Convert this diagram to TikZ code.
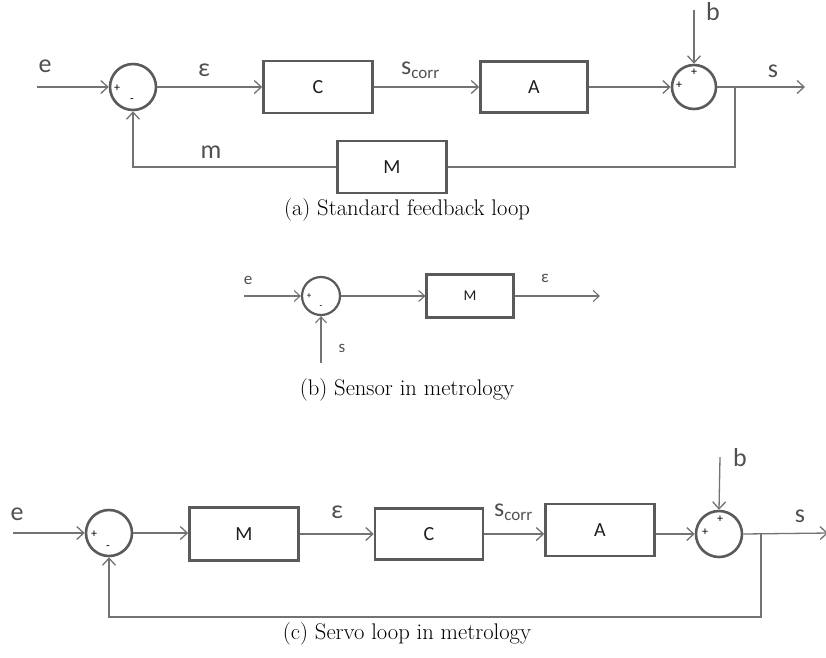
\documentclass[tikz,border=0pt]{standalone}
\usepackage{fontspec}
\newfontfamily\lab{Carlito}
\usetikzlibrary{arrows.meta}
\definecolor{ln}{RGB}{115,115,115}
\definecolor{bx}{RGB}{90,90,90}
\definecolor{tx}{RGB}{80,80,80}
\definecolor{btx}{RGB}{30,30,30}
\begin{document}
\begin{tikzpicture}[x=1pt,y=-1pt,
  blk/.style={draw=bx, line width=2.6pt, font=\lab\fontsize{20}{20}\selectfont, text=btx, inner sep=0},
  sblk/.style={blk, line width=2.2pt, font=\lab\fontsize{15}{15}\selectfont},
  sumc/.style={circle, draw=bx, line width=2.6pt, inner sep=0},
  conn/.style={draw=ln, line width=1.3pt, -{Straight Barb[length=7pt,width=13pt]}},
  sconn/.style={draw=ln, line width=1.1pt, -{Straight Barb[length=6pt,width=11pt]}},
  wire/.style={draw=ln, line width=1.3pt},
  lbl/.style={text=tx, font=\lab\fontsize{26}{26}\selectfont, inner sep=0},
  slbl/.style={text=tx, font=\lab\fontsize{17}{17}\selectfont, inner sep=0},
  sgn/.style={text=black, font=\lab\fontsize{12}{12}\selectfont, inner sep=0},
  captxt/.style={font=\fontsize{22.6}{22.6}\selectfont, inner sep=0}]
\useasboundingbox (0,0) rectangle (826,657);
% ---------- (a)
\node[sumc, minimum size=46pt] (a1) at (133,87) {};
\node[blk, minimum width=109pt, minimum height=52pt] (aC) at (318,87) {C};
\node[blk, minimum width=107pt, minimum height=51pt] (aA) at (534,87) {A};
\node[sumc, minimum size=44pt] (a2) at (694,87) {};
\node[blk, minimum width=109pt, minimum height=52pt] (aM) at (392,167) {M};
\coordinate (aein) at (37,87);
\coordinate (abin) at (694,10);
\coordinate (aout) at (805,87);
\coordinate (abr) at (735,87);
\draw[conn] (aein) -- (a1.west);
\draw[conn] (a1.east) -- (aC.west);
\draw[conn] (aC.east) -- (aA.west);
\draw[conn] (aA.east) -- (a2.west);
\draw[conn] (abin) -- (a2.north);
\draw[conn] (a2.east) -- (aout);
\draw[wire] (abr) |- (aM.east);
\draw[conn] (aM.west) -| (a1.south);
\node[lbl] (ae) at (45,66) {e};
\node[lbl] (aeps) at (204,70) {ε};
\node[lbl] (am) at (211,152) {m};
\node[lbl] (as) at (773,71) {s};
\node[lbl] (ab) at (713,12) {b};
\node[lbl, anchor=west] (asc) at (401,70) {s\raisebox{-0.35ex}{\fontsize{17}{17}\selectfont corr}};
\node[sgn] (ap1) at (117,88) {+};
\node[sgn] (am1) at (132,101) {-};
\node[sgn] (ap2) at (679,85) {+};
\node[sgn] (ap3) at (694,72) {+};
\node[captxt] (capa) at (407,210) {(a) Standard feedback loop};
% ---------- (b)
\node[sumc, line width=2.2pt, minimum size=38pt] (b1) at (321,296) {};
\node[sblk, minimum width=87pt, minimum height=43pt] (bM) at (470,296) {M};
\coordinate (bein) at (244,296);
\coordinate (bout) at (600,296);
\coordinate (bsin) at (321,363);
\draw[sconn] (bein) -- (b1.west);
\draw[sconn] (b1.east) -- (bM.west);
\draw[sconn] (bM.east) -- (bout);
\draw[sconn] (bsin) -- (b1.south);
\node[slbl] (be) at (248,280) {e};
\node[slbl] (beps) at (545,278) {ε};
\node[slbl] (bs) at (342,348) {s};
\node[sgn, font=\lab\fontsize{9}{9}\selectfont] (bp1) at (309,296) {+};
\node[sgn, font=\lab\fontsize{9}{9}\selectfont] (bm1) at (321,307) {-};
\node[captxt] (capb) at (407,390) {(b) Sensor in metrology};
% ---------- (c)
\node[sumc, minimum size=46pt] (c1) at (109,533) {};
\node[blk, minimum width=109pt, minimum height=53pt] (cM) at (244,534) {M};
\node[blk, minimum width=108pt, minimum height=51pt] (cC) at (429,534) {C};
\node[blk, minimum width=109pt, minimum height=52pt] (cA) at (600,530) {A};
\node[sumc, minimum size=46pt] (c2) at (719,534) {};
\coordinate (cein) at (13,533);
\coordinate (cbin) at (720,457);
\coordinate (cout) at (828,533);
\coordinate (cbr) at (761,533);
\coordinate (cbot) at (761,617);
\draw[conn] (cein) -- (c1.west);
\draw[conn] (c1.east) -- (c1.east -| cM.west);
\draw[conn] (cM.east) -- (cM.east -| cC.west);
\draw[conn] (cC.east) -- (cC.east -| cA.west);
\draw[conn] (cA.east |- c2.west) -- (c2.west);
\draw[conn] (cbin) -- (c2.north);
\draw[conn] (c2.east) -- (cout);
\draw[conn] (cbr) -- (cbot) -| (c1.south);
\node[lbl] (ce) at (17,514) {e};
\node[lbl] (ceps) at (337,512) {ε};
\node[lbl] (cb) at (740,458) {b};
\node[lbl] (cs) at (800,516) {s};
\node[lbl, anchor=west] (csc) at (494,512) {s\raisebox{-0.35ex}{\fontsize{17}{17}\selectfont corr}};
\node[sgn] (cp1) at (94,534) {+};
\node[sgn] (cm1) at (108,548) {-};
\node[sgn] (cp2) at (705,532) {+};
\node[sgn] (cp3) at (720,519) {+};
\node[captxt] (capc) at (407,634) {(c) Servo loop in metrology};
\end{tikzpicture}
\end{document}
